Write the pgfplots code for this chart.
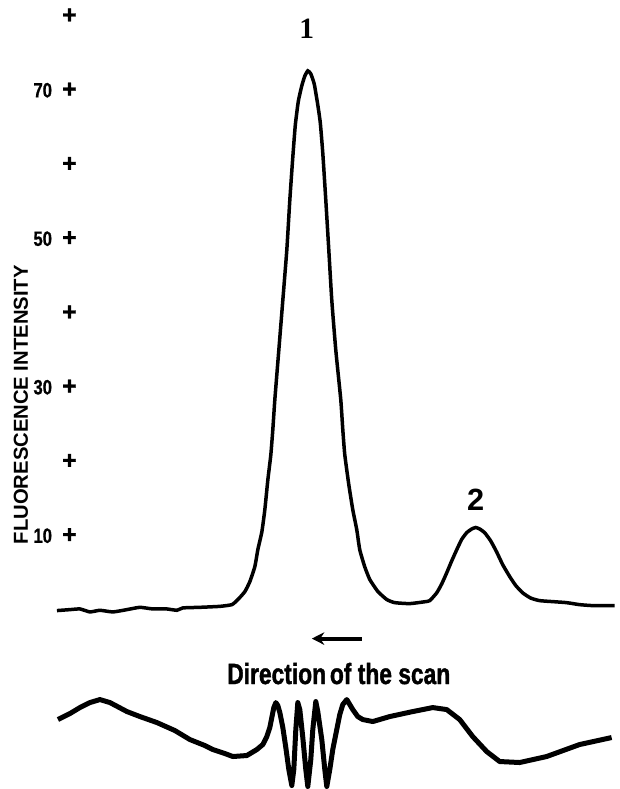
\documentclass[border=0pt]{standalone}
\usepackage{fontspec}
\setmainfont{Liberation Sans}
\newfontfamily\condfont{Liberation Sans}[FakeStretch=0.78, BoldFeatures={FakeBold=1.3}]
\newfontfamily\tickfam{Liberation Sans}[FakeStretch=0.8, BoldFeatures={FakeBold=0.8}]
\newfontfamily\plusfam{Liberation Sans}[BoldFeatures={FakeBold=1.5}]
\newfontfamily\serifbold{Liberation Serif}
\usepackage{pgfplots}
\pgfplotsset{compat=1.18}
\usetikzlibrary{arrows.meta}
\newcommand{\pl}{\makebox[4.4pt]{\plusfam\fontsize{10}{10}\selectfont\bfseries +}}
\newcommand{\tl}[1]{{\tickfam\bfseries\fontsize{8.3}{9}\selectfont #1}\hspace{4.8pt}\pl}
\begin{document}
\begin{tikzpicture}
% main fluorescence trace (x in scan position px, y in intensity)
\begin{axis}[
  scale only axis, width=220pt, height=315.6pt,
  xmin=70, xmax=620, ymin=-24.05, ymax=82.14,
  axis line style={draw=none}, xtick=\empty,
  ytick={10,20,...,80},
  yticklabels={\tl{10},\pl,\tl{30},\pl,\tl{50},\pl,\tl{70},\pl},
  ytick style={draw=none},
  yticklabel style={anchor=east, inner sep=0pt, xshift=2.2pt},
  clip=false]
\addplot[black, line width=1.4pt, smooth, tension=0.3] coordinates {
(57,-0.09) (70,0.04) (80,0.13) (90,-0.27) (100,-0.05) (113,-0.27) (127,0.04)
(140,0.35) (153,0.13) (167,0.13) (177,-0.05) (183,0.27) (200,0.35) (220,0.48)
(232,0.71) (238,1.39) (245,2.46) (250,3.81) (255,5.83) (258,8.12) (262,10.5)
(265,13.5) (268,17.5) (271,20.9) (273,24.3) (275,28.3) (279,35.0) (283,41.7)
(287,48.5) (290,55.2) (293,61.0) (295.5,65.3) (298.5,68.5) (302,70.6) (305,71.9)
(308,72.6) (311,72.2) (314.5,70.8) (318,68.0) (320.5,65.6) (323,61.5) (326,55.2)
(329,48.5) (332,41.7) (336,35.0) (341,28.3) (343,24.3) (345,20.9) (349,16.9)
(353,13.5) (357,10.8) (360,8.1) (365,5.8) (370,4.1) (378,2.5) (387,1.4) (395,0.98)
(410,0.85) (425,1.1) (430,1.25) (437,2.3) (442,3.5) (447,5.0) (452,6.6)
(457,8.1) (462,9.5) (467,10.4) (472,10.9) (476,11.1) (480,10.9) (485,10.4)
(491,9.3) (497,7.8) (503,6.1) (510,4.5) (516,3.3) (523,2.3) (531,1.6)
(540,1.25) (555,1.1) (567,0.98) (580,0.71) (593,0.58) (605,0.58) (615,0.58)
};
\end{axis}
% lower trace and annotations (pixel-like units, y downward)
\begin{axis}[
  scale only axis, width=220pt, height=315.6pt,
  xmin=70, xmax=620, ymin=0, ymax=789, y dir=reverse,
  hide axis, clip=false]
\addplot[black, line width=2pt, line join=round] coordinates {
(58,720) (70,714) (80,708) (90,703) (100,700) (110,703) (127,712) (140,717)
(157,723) (175,731) (190,740) (205,746) (213,750) (225,754) (233,757) (247,756)
(257,750) (263,745) (267,737) (270,728) (272,718) (274,708) (276,703) (278,706)
(280,713) (283,728) (286,748) (289,770) (292,786) (294,770) (296,730) (298,703)
(300,710) (303,738) (306,770) (308,787) (311,760) (313,730) (316,702) (318,712)
(322,740) (325,770) (327,787) (330,770) (333,750) (336,735) (340,715) (343,705)
(347,700) (350,705) (353,710) (358,717) (363,720) (373,722) (390,717) (413,712)
(433,708) (447,710) (460,720) (473,737) (487,752) (500,762) (520,763) (547,757)
(580,745) (612,738)
};
\path (axis cs:0,0) rectangle (axis cs:620,789);
\draw[line width=1.6pt, -{Stealth[length=5pt,width=5pt]}] (axis cs:362,639) -- (axis cs:312,639);
\node[font=\condfont\bfseries\fontsize{11.7}{12}\selectfont] at (axis cs:339,674) {Direction\hspace{-1pt} of the scan};
\node[font=\serifbold\bfseries\fontsize{11.8}{12}\selectfont] at (axis cs:307,29) {1};
\node[font=\bfseries\fontsize{12.3}{13}\selectfont] at (axis cs:476,500) {2};
\node[rotate=90, font=\bfseries\fontsize{8.1}{9}\selectfont] at (axis cs:21,405) {FLUORESCENCE INTENSITY};
\end{axis}
\end{tikzpicture}
\end{document}
